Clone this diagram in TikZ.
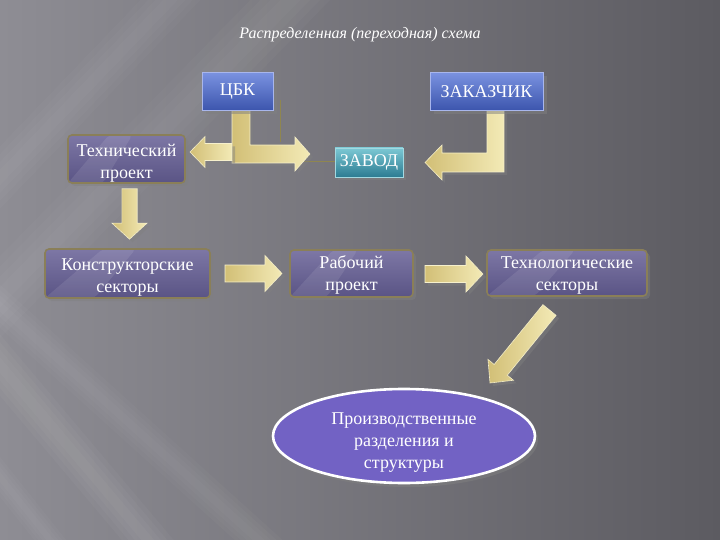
\documentclass[tikz,border=0pt]{standalone}
\usepackage{fontspec}
\setmainfont{Liberation Serif}
\usetikzlibrary{calc,shadows,shapes.geometric}
\definecolor{bgl}{HTML}{8E8D94}
\definecolor{bgr}{HTML}{5C5B61}
\definecolor{purt}{HTML}{7D77A5}
\definecolor{purb}{HTML}{5A5485}
\definecolor{olive}{HTML}{8A7F58}
\definecolor{bluet}{HTML}{7A92E0}
\definecolor{blueb}{HTML}{3C55AD}
\definecolor{blued}{HTML}{A8B6EC}
\definecolor{tealt}{HTML}{7CC8D4}
\definecolor{tealb}{HTML}{2C7C92}
\definecolor{ellfill}{HTML}{7262C4}
\definecolor{arrl}{HTML}{D2BF76}
\definecolor{arrr}{HTML}{F3EAB6}
\definecolor{arrd}{HTML}{F6F0CC}
\definecolor{thinc}{HTML}{8F8650}
\newcommand\blockarrow[5]{% tail, tip, half shaft, half head, head length
  \coordinate (ah) at ($(#2)!#5pt!(#1)$);
  \fill[arrowfill] ($(#1)!#3pt!90:(#2)$) -- ($(ah)!#3pt!-90:(#1)$) -- ($(ah)!#4pt!-90:(#1)$) -- (#2)
     -- ($(ah)!#4pt!90:(#1)$) -- ($(ah)!#3pt!90:(#1)$) -- ($(#1)!#3pt!-90:(#2)$) -- cycle;
}
% soft streak between two points, with horizontal half width
\newcommand\streak[6]{% x0 y0 x1 y1 halfwidth opacity
  \foreach \k in {1,0.75,0.5,0.25}{
    \fill[white,opacity=#6] ({#1-#5*\k},#2) -- ({#1+#5*\k},#2) -- ({#3+#5*\k},#4) -- ({#3-#5*\k},#4) -- cycle;
  }
}
\newcommand\dn[2][4pt]{\raisebox{-#1}[\height][\depth]{\begin{tabular}{@{}c@{}}#2\end{tabular}}}
\begin{document}
\begin{tikzpicture}[x=1pt,y=-1pt,
  txt/.style={text=white, font=\fontsize{18}{22}\selectfont, inner sep=0pt},
  pbox/.style={txt, draw=olive, line width=1.6pt, rounded corners=4pt,
    top color=purt, bottom color=purb,
    drop shadow={opacity=0.45, shadow xshift=3pt, shadow yshift=-3pt},
    path picture={\fill[white,opacity=0.09]
      (path picture bounding box.south west) -- ($(path picture bounding box.south west)!0.3!(path picture bounding box.south east)$)
      -- ($(path picture bounding box.north west)!0.55!(path picture bounding box.north east)$)
      -- ($(path picture bounding box.north west)!0.35!(path picture bounding box.north east)$) -- cycle;}},
  bbox/.style={txt, draw=blued, line width=0.8pt, top color=bluet, bottom color=blueb,
    drop shadow={opacity=0.5, shadow xshift=4pt, shadow yshift=-4pt}},
  tbox/.style={txt, draw=tealt!70!white, line width=0.8pt, top color=tealt, bottom color=tealb,
    drop shadow={opacity=0.5, shadow xshift=3pt, shadow yshift=-3pt}},
  arrowfill/.style={left color=arrl, right color=arrr, draw=arrd, line width=0.6pt,
    drop shadow={opacity=0.45, shadow xshift=3pt, shadow yshift=-3pt}},
  thinline/.style={draw=thinc, line width=0.9pt}
]
\useasboundingbox (0,0) rectangle (720,540);
% background
\shade[left color=bgl, right color=bgr] (0,0) rectangle (720,540);
\streak{300}{-10}{-120}{420}{40}{0.025}
\streak{180}{-10}{-60}{240}{30}{0.02}
\streak{-393}{-100}{190}{590}{26}{0.028}
\streak{-173}{150}{314}{590}{24}{0.025}
\streak{-300}{100}{90}{590}{16}{0.02}

% title
\node[text=white, font=\itshape\fontsize{16}{18}\selectfont, inner sep=0pt] (title) at (360,35) {Распределенная (переходная) схема};

% thin connector lines
\coordinate (tl1) at (280,100);
\coordinate (tl2) at (280,142);
\draw[thinline] (tl1) -- (tl2);
\coordinate (tl3) at (300,161);
\coordinate (tl4) at (340,161);
\draw[thinline] (tl3) -- (tl4);

% L-shaped arrows
\fill[arrowfill] (232,108) -- (250,108) -- (250,145) -- (295,145) -- (295,137) -- (310,154)
   -- (295,171) -- (295,163) -- (232,163) -- cycle;
\coordinate (la1) at (232,152);
\coordinate (la2) at (190,152);
\blockarrow{la1}{la2}{8.5}{15.5}{15}
\fill[arrowfill] (487,110) -- (504,110) -- (504,172) -- (442,172) -- (442,180) -- (425,162.5)
   -- (442,145) -- (442,153) -- (487,153) -- cycle;

% boxes
\node[bbox, minimum width=71pt, minimum height=38pt] (cbk) at (237.5,91.5) {ЦБК};
\node[bbox, minimum width=113pt, minimum height=38pt] (zak) at (486.5,91.5) {ЗАКАЗЧИК};
\node[tbox, minimum width=68pt, minimum height=29pt] (zavod) at (369,162.5) {ЗАВОД};
\node[pbox, minimum width=117pt, minimum height=48pt] (tech) at (126.5,159) {\dn{Технический\\проект}};
\node[pbox, minimum width=165pt, minimum height=49pt] (kons) at (127.5,273.5) {\dn{Конструкторские\\секторы}};
\node[pbox, minimum width=123pt, minimum height=47pt] (rab) at (351.5,273.5) {\dn[2pt]{Рабочий\\проект}};
\node[pbox, minimum width=160pt, minimum height=46pt] (tehn) at (567,273) {\dn[2pt]{Технологические\\секторы}};
\node[ellipse, draw=white, line width=2.6pt, fill=ellfill, minimum width=262pt, minimum height=94pt,
   txt, drop shadow={opacity=0.5, shadow xshift=3pt, shadow yshift=-4pt}] (prod) at (404,436)
   {\dn[6pt]{Производственные\\разделения и\\структуры}};

% straight arrows
\coordinate (a1) at ($(tech.south)+(3,5)$);
\coordinate (a2) at ($(kons.north)+(2,-9)$);
\blockarrow{a1}{a2}{7.7}{17.5}{16}
\coordinate (b1) at (225,273.5);
\coordinate (b2) at (282,273.5);
\blockarrow{b1}{b2}{8.5}{18}{17}
\coordinate (c1) at (425,274);
\coordinate (c2) at (483,274);
\blockarrow{c1}{c2}{8.5}{18}{17}
\coordinate (d1) at (549.5,310);
\coordinate (d2) at (490,383);
\blockarrow{d1}{d2}{8.5}{16.5}{17}
\end{tikzpicture}
\end{document}
